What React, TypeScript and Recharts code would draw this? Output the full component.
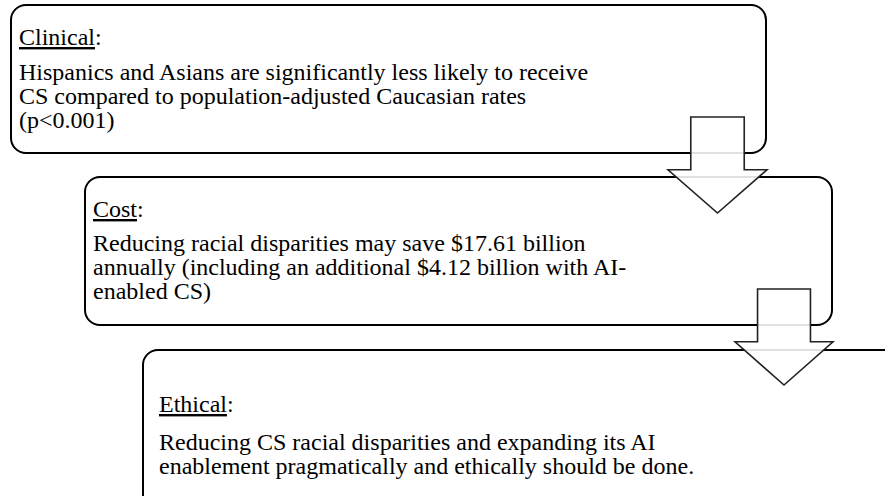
import { ComposedChart, XAxis, YAxis, ReferenceArea } from 'recharts';

// Diagram canvas units match the 885x496 picture
const boxTitles = ['Clinical', 'Cost', 'Ethical'];
const boxLines = [
  [
    'Hispanics and Asians are significantly less likely to receive',
    'CS compared to population-adjusted Caucasian rates',
    '(p<0.001)',
  ],
  [
    'Reducing racial disparities may save $17.61 billion',
    'annually (including an additional $4.12 billion with AI-',
    'enabled CS)',
  ],
  [
    'Reducing CS racial disparities and expanding its AI',
    'enablement pragmatically and ethically should be done.',
  ],
];
const boxLeft = [11, 85, 143];
const boxRight = [766, 832, 905];
const boxTop = [5, 177, 350];
const boxBottom = [153, 325, 510];
const textInset = [8, 8, 16];
const titleOffset = [40, 40, 62];
const bodyGap = [35, 34, 38];

const arrowLeft = [668, 735];
const arrowRight = [767, 833];
const arrowTop = [117, 289];
const arrowBottom = [213, 385];

const textStyle = { fontFamily: "'Liberation Serif', 'Times New Roman', Times, serif", fontSize: 24 };

const BoxShape = (idx: number) => (props: any) => {
  const { x, y, width, height } = props;
  const tx = x + textInset[idx];
  const ty = y + titleOffset[idx];
  return (
    <g>
      <rect x={x} y={y} width={width} height={height} rx={15} ry={15}
        fill="#fff" stroke="#000" strokeWidth={2} />
      <text x={tx} y={ty} style={textStyle} fill="#000">
        <tspan textDecoration="underline">{boxTitles[idx]}</tspan>
        <tspan>:</tspan>
      </text>
      {boxLines[idx].map((line, i) => (
        <text key={i} x={tx} y={ty + bodyGap[idx] + i * 24} style={textStyle} fill="#000">
          {line}
        </text>
      ))}
    </g>
  );
};

const ArrowShape = (props: any) => {
  const { x, y, width, height } = props;
  const cx = x + width / 2;
  const shaftHalf = width * 0.27;
  const headY = y + height * 0.55;
  const pts = [
    [cx - shaftHalf, y],
    [cx + shaftHalf, y],
    [cx + shaftHalf, headY],
    [x + width, headY],
    [cx, y + height],
    [x, headY],
    [cx - shaftHalf, headY],
  ]
    .map((p) => p.join(','))
    .join(' ');
  return (
    <polygon points={pts} fill="#fff" fillOpacity={0.88} stroke="#222" strokeWidth={1.6}
      strokeLinejoin="miter" />
  );
};

export default function App() {
  return (
    <div style={{ position: 'fixed', left: 0, top: 0, background: '#fff' }}>
      <ComposedChart width={885} height={496} margin={{ top: 0, right: 0, bottom: 0, left: 0 }}>
        <XAxis type="number" dataKey="x" domain={[0, 885]} hide allowDataOverflow />
        <YAxis type="number" dataKey="y" domain={[0, 496]} reversed hide allowDataOverflow width={0} />
        {boxTitles.map((t, i) => (
          <ReferenceArea key={t} x1={boxLeft[i]} x2={boxRight[i]} y1={boxTop[i]} y2={boxBottom[i]}
            ifOverflow="visible" shape={BoxShape(i)} />
        ))}
        {arrowLeft.map((a, i) => (
          <ReferenceArea key={'arrow' + i} x1={a} x2={arrowRight[i]} y1={arrowTop[i]} y2={arrowBottom[i]}
            ifOverflow="visible" shape={ArrowShape} />
        ))}
      </ComposedChart>
    </div>
  );
}
